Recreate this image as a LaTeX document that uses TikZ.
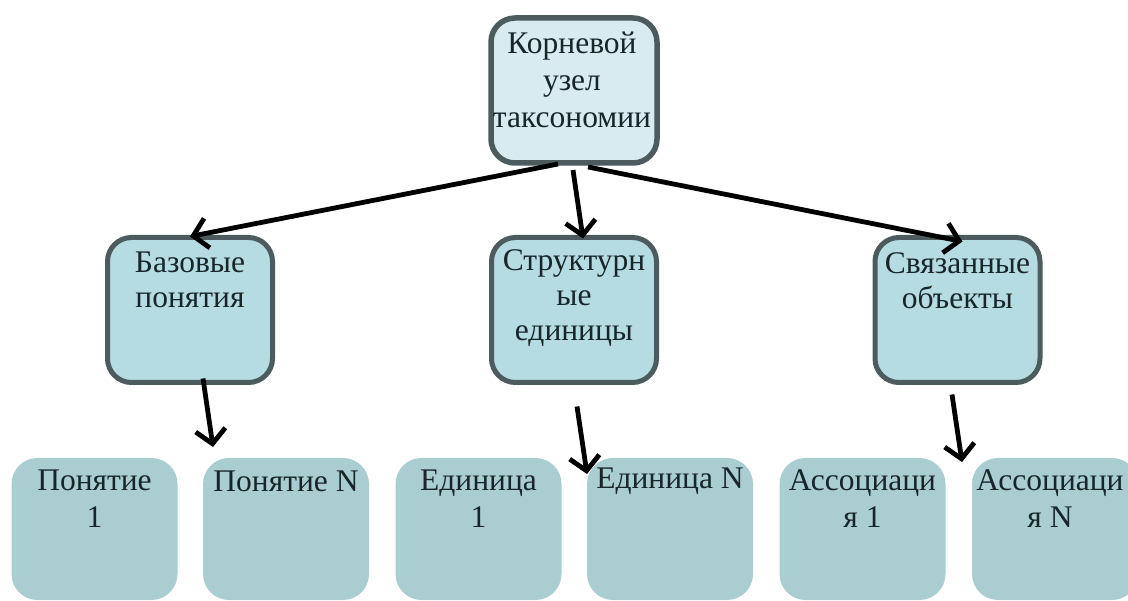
\documentclass[tikz,border=0pt]{standalone}
\usepackage{fontspec}
\setmainfont{Liberation Serif}
\usetikzlibrary{arrows.meta,calc}
\definecolor{rootfill}{HTML}{D7EBF0}
\definecolor{midfill}{HTML}{B6DCE3}
\definecolor{lowfill}{HTML}{AACDD2}
\definecolor{edgecol}{HTML}{4C5B5D}
\definecolor{ink}{HTML}{18262A}
\begin{document}
\begin{tikzpicture}[x=1pt,y=-1pt,
  boxbase/.style={rectangle, inner sep=0pt, outer sep=0pt},
  rootbox/.style={boxbase, rounded corners=24pt, draw=edgecol, line width=5.5pt, fill=rootfill, minimum width=166pt, minimum height=145pt},
  midbox/.style={boxbase, rounded corners=24pt, draw=edgecol, line width=5pt, fill=midfill, minimum width=165pt, minimum height=145pt},
  lowbox/.style={boxbase, rounded corners=26pt, fill=lowfill, minimum width=166pt, minimum height=142pt},
  lbl/.style={inner sep=0pt, align=center, text=ink, font=\fontsize{31.5}{37}\selectfont},
  arr/.style={line width=4.8pt, black, -{Straight Barb[length=14pt,width=30pt,line width=4.8pt]}}
]
\useasboundingbox (0,0) rectangle (1128,601);
\clip (0,0) rectangle (1128,601);
\fill[white] (0,0) rectangle (1128,601);

% root
\node[rootbox] (root) at (574,90.5) {};
\node[lbl] (roott) at (572,80) {Корневой\\узел\\таксономии};

% middle row
\node[midbox] (b1) at (190,310) {};
\node[lbl, font=\fontsize{31.5}{35}\selectfont] (b1t) at (190,280) {Базовые\\понятия};
\node[midbox] (s2) at (574,310) {};
\node[lbl, font=\fontsize{31.5}{35}\selectfont] (s2t) at (574,298) {Структурн\\ые\\единицы};
\node[midbox] (s3) at (957.5,310) {};
\node[lbl, font=\fontsize{31.5}{35}\selectfont] (s3t) at (957.5,281) {Связанные\\объекты};

% bottom row
\node[lowbox] (p1) at (94.5,529) {};
\node[lbl] (p1t) at (94.5,499) {Понятие\\1};
\node[lowbox] (p2) at (286,529) {};
\node[lbl] (p2t) at (286,481) {Понятие N};
\node[lowbox] (e1) at (478.5,529) {};
\node[lbl] (e1t) at (478.5,499) {Единица\\1};
\node[lowbox] (e2) at (670,529) {};
\node[lbl] (e2t) at (670,481) {Единица N};
\node[lowbox] (a1) at (862.5,529) {};
\node[lbl] (a1t) at (862.5,499) {Ассоциаци\\я 1};
\node[lowbox] (a2) at (1055,529) {};
\node[lbl] (a2t) at (1050,499) {Ассоциаци\\я N};

% connectors
\draw[arr] ($(root.south)+(-16,1)$) -- ($(b1.north)+(0,-1)$);
\draw[arr] ($(root.south)+(-1,7)$) -- ($(s2.north)+(9,1)$);
\draw[arr] ($(root.south)+(14,4)$) -- ($(s3.north)+(5,4)$);
\draw[arr] ($(b1.south)+(13,-4)$) -- ($(p2.north west)+(10,-11)$);
\draw[arr] ($(s2.south)+(3,24)$) -- ($(e2.north west)+(0,16)$);
\draw[arr] ($(s3.south)+(-5.5,12)$) -- ($(a2.north west)+(-10,4)$);
\end{tikzpicture}
\end{document}
